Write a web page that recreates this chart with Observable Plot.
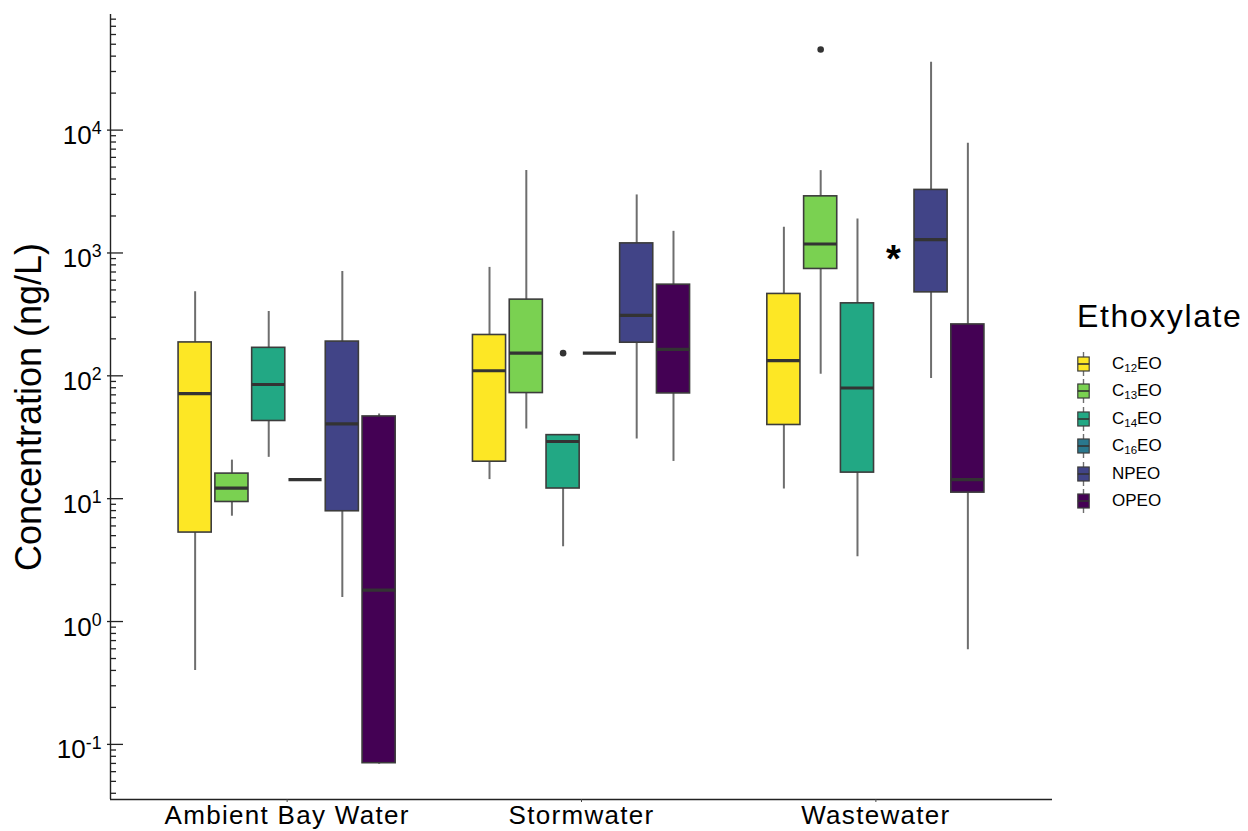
<!DOCTYPE html>
<html>
<head>
<meta charset="utf-8">
<script src="https://cdn.jsdelivr.net/npm/d3@7"></script>
<script src="https://cdn.jsdelivr.net/npm/@observablehq/plot@0.6"></script>
<style>
  body { margin: 0; background: #fff; }
  #wrap { position: relative; width: 1248px; height: 831px; background: #fff;
          font-family: "Liberation Sans", Arial, Helvetica, sans-serif; }
  #wrap svg { display: block; }
  g[aria-label="x-axis tick label"] text { letter-spacing: 1.3px; }
  .lg-title { position: absolute; left: 1077px; font-size: 32px; line-height: 32px; letter-spacing: 1.6px; color: #000; white-space: nowrap; }
  .lg-key { position: absolute; left: 1077px; width: 13px; height: 26px; }
  .lg-label { position: absolute; left: 1112px; font-size: 17px; line-height: 20px; color: #000; white-space: nowrap; }
  .lg-label sub { font-size: 11.5px; vertical-align: -3px; line-height: 0; }
</style>
</head>
<body>
<div id="wrap"></div>
<script>
// ---------------- data ----------------
const categories  = ["Ambient Bay Water", "Stormwater", "Wastewater"];
const ethoxylates = ["C12EO", "C13EO", "C14EO", "C16EO", "NPEO", "OPEO"];
const colors      = ["#FDE725", "#7AD151", "#22A884", "#2A788E", "#414487", "#440154"];

// rows = categories, columns = ethoxylates (ng/L); null = no box
const whiskerLow = [
  [0.40, 7.2, 21.7, 14.3, 1.57, 0.069],
  [14.3, 36.9, 4.06, 153, 30.6, 20.1],
  [12.0, 103, 3.37, null, 95.2, 0.589]
];
const quartile1 = [
  [5.3, 9.4, 42.9, 14.3, 7.9, 0.0703],
  [20.0, 72.4, 12.1, 153, 186, 71.9],
  [39.8, 741, 16.3, null, 478, 11.2]
];
const median = [
  [71.6, 12.2, 85, 14.3, 40.7, 1.80],
  [110, 153, 29.2, 153, 310, 164],
  [133, 1183, 79.6, null, 1283, 14.3]
];
const quartile3 = [
  [187, 16.0, 169, 14.3, 190, 46.7],
  [215, 417, 32.9, 153, 1197, 552],
  [464, 2890, 389, null, 3260, 262]
];
const whiskerHigh = [
  [484, 20.6, 334, 14.3, 705, 48.9],
  [763, 4680, 33.3, 153, 2967, 1500],
  [1617, 4680, 1892, null, 35700, 7810]
];
const outliers = [
  { category: "Stormwater", ethoxylate: "C14EO", value: 153 },
  { category: "Wastewater", ethoxylate: "C13EO", value: 45300 }
];
const annotations = [
  { category: "Wastewater", ethoxylate: "C16EO", value: 960, label: "*" }
];
const yMajorTicks = [0.1, 1, 10, 100, 1000, 10000];
const yDomain = [0.0356, 87300];
const yTitle = "Concentration (ng/L)";
const legendTitle = "Ethoxylate";

// ---------------- layout helpers (ggplot-like dodge) ----------------
const dodgeWidth = 0.75;
const step = dodgeWidth / ethoxylates.length;
const half = step * 0.9 / 2;
const pos = (c, e) => categories.indexOf(c) + 1 + (ethoxylates.indexOf(e) - (ethoxylates.length - 1) / 2) * step;

const boxes = categories.flatMap((c, i) => ethoxylates.map((e, j) => ({
  category: c, ethoxylate: e,
  lo: whiskerLow[i][j], q1: quartile1[i][j], med: median[i][j],
  q3: quartile3[i][j], hi: whiskerHigh[i][j]
}))).filter(d => d.med != null);

const minorTicks = d3.range(-2, 5)
  .flatMap(k => d3.range(2, 10).map(m => m * Math.pow(10, k)))
  .filter(v => v >= yDomain[0] && v <= yDomain[1]);

const xDomain = [0.4, categories.length + 0.6];

const chart = Plot.plot({
  width: 1248,
  height: 831,
  marginLeft: 110,
  marginRight: 196,
  marginTop: 14,
  marginBottom: 32,
  x: { type: "linear", domain: xDomain, label: null },
  y: { type: "log", domain: yDomain, label: null },
  color: { domain: ethoxylates, range: colors },
  style: { fontFamily: '"Liberation Sans", Arial, Helvetica, sans-serif', fontSize: "26px", color: "#000", background: "#fff" },
  marks: [
    // whiskers
    Plot.ruleX(boxes, { x: d => pos(d.category, d.ethoxylate), y1: "lo", y2: "hi", stroke: "#6e6e6e", strokeWidth: 2 }),
    // boxes
    Plot.rect(boxes, {
      x1: d => pos(d.category, d.ethoxylate) - half,
      x2: d => pos(d.category, d.ethoxylate) + half,
      y1: "q1", y2: "q3", fill: "ethoxylate", stroke: "#3c3c3c", strokeWidth: 1.6
    }),
    // medians
    Plot.ruleY(boxes, {
      x1: d => pos(d.category, d.ethoxylate) - half,
      x2: d => pos(d.category, d.ethoxylate) + half,
      y: "med", stroke: "#333", strokeWidth: 3.2
    }),
    // outliers
    Plot.dot(outliers, { x: d => pos(d.category, d.ethoxylate), y: "value", r: 3.3, fill: "#333", stroke: null }),
    // annotation asterisk
    Plot.text(annotations, { x: d => pos(d.category, d.ethoxylate), y: "value", text: "label", fontSize: 38, fontWeight: "bold", dx: -1, dy: 5, fill: "#000" }),
    // axis lines
    Plot.ruleX([xDomain[0]], { stroke: "#222", strokeWidth: 1.4 }),
    Plot.ruleY([yDomain[0]], { stroke: "#222", strokeWidth: 1.4 }),
    // y ticks (log ticks inside + short outside)
    Plot.axisY(yMajorTicks, { tickSize: 16, dx: 13, tickFormat: () => "", fill: "none", stroke: "#222", strokeWidth: 1.3 }),
    Plot.axisY(minorTicks, { tickSize: 6, dx: 6, tickFormat: () => "", fill: "none", stroke: "#222", strokeWidth: 1.3 }),
    Plot.axisY(yMajorTicks, { tickSize: 0, tickPadding: 9, fontSize: 26, tickFormat: d => `10^${Math.round(Math.log10(d))}` }),
    // x axis
    Plot.axisX(d3.range(1, categories.length + 1), { tickSize: 3, tickPadding: 3, fontSize: 26, stroke: "#444", tickFormat: d => categories[d - 1] }),
    // y title
    Plot.text([yTitle], { text: d => d, frameAnchor: "left", textAnchor: "middle", lineAnchor: "middle", dx: -81, rotate: -90, fontSize: 36, fill: "#000" })
  ]
});

// superscript exponents on y tick labels
d3.select(chart).selectAll('g[aria-label="y-axis tick label"] text').each(function () {
  const m = (this.textContent || "").match(/^10\^(-?\d+)$/);
  if (!m) return;
  const el = d3.select(this);
  el.text(null);
  el.append("tspan").attr("dy", "0.22em").text("10");
  el.append("tspan").attr("dy", "-0.55em").attr("font-size", "0.68em").text(m[1]);
});

const wrap = document.getElementById("wrap");
wrap.appendChild(chart);

// ---------------- legend (HTML, to the right of the panel) ----------------
const title = document.createElement("div");
title.className = "lg-title";
title.style.top = "300px";
title.textContent = legendTitle;
wrap.appendChild(title);

const itemCenters0 = 364, itemStep = 27.4;
ethoxylates.forEach((e, i) => {
  const cy = itemCenters0 + i * itemStep;
  const key = document.createElementNS("http://www.w3.org/2000/svg", "svg");
  key.setAttribute("class", "lg-key");
  key.setAttribute("width", "13");
  key.setAttribute("height", "26");
  key.style.top = (cy - 13) + "px";
  key.innerHTML =
    `<line x1="6.5" x2="6.5" y1="1" y2="25" stroke="#6e6e6e" stroke-width="1.4"/>` +
    `<rect x="0.8" y="6" width="11.4" height="14" fill="${colors[i]}" stroke="#3c3c3c" stroke-width="1.2"/>` +
    `<line x1="0.8" x2="12.2" y1="13" y2="13" stroke="#333" stroke-width="1.6"/>`;
  wrap.appendChild(key);

  const lab = document.createElement("div");
  lab.className = "lg-label";
  lab.style.top = (cy - 10) + "px";
  const m = e.match(/^C(\d+)(EO)$/);
  lab.innerHTML = m ? `C<sub>${m[1]}</sub>${m[2]}` : e;
  wrap.appendChild(lab);
});
</script>
</body>
</html>
